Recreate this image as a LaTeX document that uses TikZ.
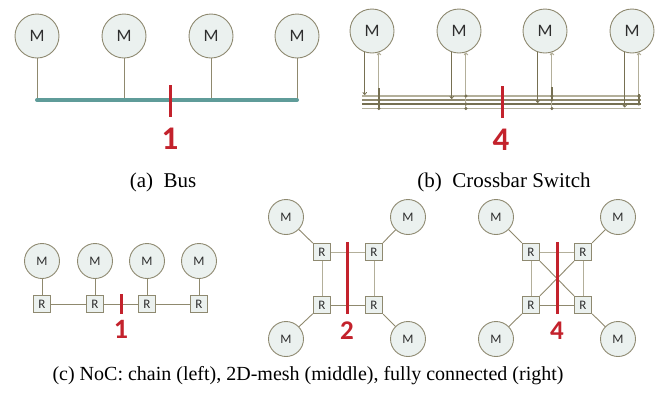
\documentclass[tikz,border=0pt]{standalone}
\usepackage{fontspec}
\setmainfont{Liberation Serif}
\newfontfamily\labelfont{Carlito}
\usetikzlibrary{arrows.meta}
\definecolor{nodefill}{HTML}{EBF1EF}
\definecolor{nodeline}{HTML}{8E8970}
\definecolor{wire}{HTML}{8F896E}
\definecolor{wirelight}{HTML}{B3AF9A}
\definecolor{wiredark}{HTML}{767052}
\definecolor{busteal}{HTML}{5F9C99}
\definecolor{cutred}{HTML}{C3222C}
\definecolor{labelgray}{HTML}{2E2E2E}
\begin{document}
\begin{tikzpicture}[x=1pt,y=-1pt,
  mem/.style={circle,draw=nodeline,fill=nodefill,line width=0.9pt,
    minimum size=#1,inner sep=0pt,text=labelgray},
  membig/.style={mem=44pt,font=\labelfont\fontsize{17.5}{20}\selectfont},
  memsmall/.style={mem=35pt,font=\labelfont\fontsize{13}{15}\selectfont},
  router/.style={rectangle,draw=nodeline,fill=nodefill,line width=0.9pt,
    minimum size=17.5pt,inner sep=0pt,text=labelgray,
    font=\labelfont\fontsize{13}{15}\selectfont},
  link/.style={draw=wire,line width=0.9pt},
  buswire/.style={draw=busteal,line width=4pt,line cap=round},
  rowwire/.style={line width=1.1pt},
  xdown/.style={draw=wiredark,line width=0.8pt,-{To[length=3pt,width=4.5pt]},shorten >=1pt},
  xup/.style={draw=wirelight,line width=1.1pt,-{To[length=3pt,width=4.5pt]}},
  tap/.style={fill=wiredark},
  cut/.style={draw=cutred,line width=3pt},
  cutnum/.style={text=cutred,inner sep=0pt,font=\labelfont\bfseries\fontsize{#1}{#1}\selectfont},
  caption/.style={anchor=base,inner sep=0pt,font=\fontsize{#1}{24}\selectfont}
]
\useasboundingbox (0,0) rectangle (660,392);

% ---------------- (a) shared bus ----------------
\foreach \i/\x in {1/37,2/124,3/211,4/297}{
  \node[membig] (a\i) at (\x,36) {M};
  \coordinate (ab\i) at (\x,100);
  \draw[link] (a\i) -- (ab\i);
}
\draw[buswire] (ab1) -- (ab4);
\coordinate (acutT) at (170,85);
\coordinate (acutB) at (170,117);
\draw[cut] (acutT) -- (acutB);
\node[cutnum=33] (anum) at (170,139) {1};
\node[caption=21] (acap) at (163,187) {(a)\ \ Bus};

% ---------------- (b) crossbar switch ----------------
\coordinate (r1w) at (362,96);   \coordinate (r1e) at (641,96);
\coordinate (r2w) at (362,100);  \coordinate (r2e) at (641,100);
\coordinate (r3w) at (362,104);  \coordinate (r3e) at (641,104);
\coordinate (r4w) at (362,108.5);\coordinate (r4e) at (641,108.5);
\draw[rowwire,draw=wirelight] (r1w) -- (r1e);
\draw[rowwire,draw=wire] (r2w) -- (r2e);
\draw[rowwire,draw=wiredark] (r3w) -- (r3e);
\draw[rowwire,draw=wirelight] (r4w) -- (r4e);

\foreach \i/\x in {1/372,2/459,3/545,4/632}{
  \node[membig] (b\i) at (\x,31) {M};
}
% each unit drives its own row ...
\draw[xdown] (b1.251.4) -- (b1.251.4 |- r1w);
\draw[xdown] (b2.251.4) -- (b2.251.4 |- r2w);
\draw[xdown] (b3.251.4) -- (b3.251.4 |- r3w);
\draw[xdown] (b4.251.4) -- (b4.251.4 |- r4w);
% ... and listens to the three other rows
\draw[xup] (b1.288.6 |- r4w) -- (b1.288.6);
\draw[xup] (b2.288.6 |- r4w) -- (b2.288.6);
\draw[xup] (b3.288.6 |- r4w) -- (b3.288.6);
\draw[xup] (b4.288.6 |- r3w) -- (b4.288.6);
\draw[draw=wiredark,line width=1.3pt] (b1.288.6 |- r4w) -- ([yshift=21pt]b1.288.6 |- r4w);
\draw[draw=wiredark,line width=1.3pt] (b3.288.6 |- r2w) -- ([yshift=13pt]b3.288.6 |- r2w);
\draw[draw=wiredark,line width=1.3pt] (b4.288.6 |- r3w) -- ([yshift=10pt]b4.288.6 |- r3w);
\foreach \b/\rows in {b1/{r2w,r3w,r4w},b2/{r1w,r3w,r4w},b3/{r1w,r2w,r4w},b4/{r1w,r2w,r3w}}{
  \foreach \r in \rows {
    \fill[tap] (\b.288.6 |- \r) circle (1.7pt);
  }
}
\coordinate (bcutT) at (502,86);
\coordinate (bcutB) at (502,118);
\draw[cut] (bcutT) -- (bcutB);
\node[cutnum=33] (bnum) at (501,140) {4};
\node[caption=21] (bcap) at (504,187) {(b)\ \ Crossbar Switch};

% ---------------- (c) NoC: chain ----------------
\foreach \i/\x in {1/42,2/95,3/147,4/199}{
  \node[memsmall] (cm\i) at (\x,261) {M};
  \node[router] (cr\i) at (\x,304) {R};
  \draw[link] (cm\i) -- (cr\i);
}
\draw[link] (cr1) -- (cr2);
\draw[link] (cr2) -- (cr3);
\draw[link] (cr3) -- (cr4);
\coordinate (ccutT) at (121,294);
\coordinate (ccutB) at (121,314);
\draw[cut] (ccutT) -- (ccutB);
\node[cutnum=28] (cnum) at (121,329) {1};

% ---------------- (c) NoC: 2D mesh ----------------
\node[memsmall] (mm1) at (286,217) {M};
\node[memsmall] (mm2) at (408,217) {M};
\node[memsmall] (mm3) at (286,339) {M};
\node[memsmall] (mm4) at (408,339) {M};
\node[router] (mr1) at (322,252) {R};
\node[router] (mr2) at (374,252) {R};
\node[router] (mr3) at (322,305) {R};
\node[router] (mr4) at (374,305) {R};
\foreach \i in {1,2,3,4}{ \draw[link] (mm\i) -- (mr\i); }
\draw[link,draw=wirelight] (mr1) -- (mr2);
\draw[link] (mr3) -- (mr4);
\draw[link,draw=wirelight] (mr1) -- (mr3);
\draw[link,draw=wirelight] (mr2) -- (mr4);
\coordinate (mcutT) at (347,242);
\coordinate (mcutB) at (347,314);
\draw[cut] (mcutT) -- (mcutB);
\node[cutnum=27] (mnum) at (347,331) {2};

% ---------------- (c) NoC: fully connected ----------------
\node[memsmall] (fm1) at (496,217) {M};
\node[memsmall] (fm2) at (618,217) {M};
\node[memsmall] (fm3) at (496,339) {M};
\node[memsmall] (fm4) at (618,339) {M};
\node[router] (fr1) at (531,252) {R};
\node[router] (fr2) at (583,252) {R};
\node[router] (fr3) at (531,305) {R};
\node[router] (fr4) at (583,305) {R};
\foreach \i in {1,2,3,4}{ \draw[link] (fm\i) -- (fr\i); }
\draw[link,draw=wirelight] (fr1) -- (fr2);
\draw[link] (fr3) -- (fr4);
\draw[link,draw=wirelight] (fr1) -- (fr3);
\draw[link,draw=wirelight] (fr2) -- (fr4);
\draw[link] (fr1) -- (fr4);
\draw[link] (fr2) -- (fr3);
\coordinate (fcutT) at (557,242);
\coordinate (fcutB) at (557,314);
\draw[cut] (fcutT) -- (fcutB);
\node[cutnum=27] (fnum) at (557,331) {4};

\node[caption=20] (ccap) at (308,380) {(c)\ NoC: chain (left), 2D-mesh (middle), fully connected (right)};
\end{tikzpicture}
\end{document}
